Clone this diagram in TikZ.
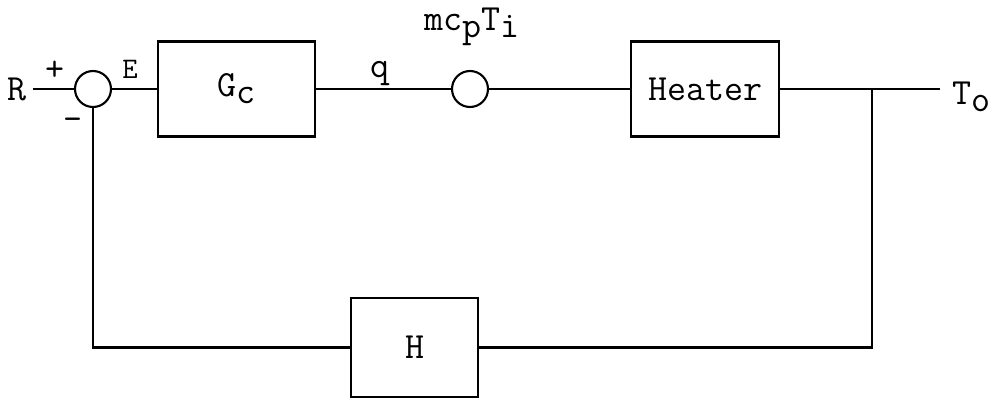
\documentclass[tikz,border=0pt]{standalone}
\usepackage{tikz}
\usetikzlibrary{positioning}

\newcommand{\low}[1]{\raisebox{-0.45ex}{#1}}

\begin{document}
\begin{tikzpicture}[
  x=0.02cm, y=-0.02cm,
  font=\ttfamily\fontsize{21}{24}\selectfont,
  box/.style={draw, line width=1.2pt, minimum height=1.9cm, inner sep=0pt},
  junc/.style={draw, circle, line width=1.2pt, minimum size=0.72cm, inner sep=0pt},
  wire/.style={line width=1.2pt}
]
\useasboundingbox (0,0) rectangle (993,399);

% forward path
\node (r) at (17,89) {R};
\node[junc] (sum) at (93,89) {};
\node[box, minimum width=3.14cm] (gc) at (236.5,89) {G\low{c}};
\node[junc] (mix) at (470,89) {};
\node[box, minimum width=2.96cm] (heater) at (705,89) {Heater};
\coordinate (split) at (872,89);
\coordinate (out) at (940,89);
\node (to) at (971,97) {T\low{o}};

% feedback path
\node[box, minimum width=2.54cm, minimum height=1.98cm] (h) at (414.5,347.5) {H};

% signal labels
\node (plus) at (55,71) {+};
\node (minus) at (73,124) {-};
\node[font=\ttfamily\fontsize{17}{19}\selectfont] (e) at (130,69) {E};
\node (q) at (380,74) {q};
\node (mcp) at (472,27) {mc\low{p}T\low{i}};

\draw[wire] (r.east) -- (sum.west);
\draw[wire] (sum.east) -- (gc.west);
\draw[wire] (gc.east) -- (mix.west);
\draw[wire] (mix.east) -- (heater.west);
\draw[wire] (heater.east) -- (out);
\draw[wire] (split) |- (h.east);
\draw[wire] (h.west) -| (sum.south);
\end{tikzpicture}
\end{document}
